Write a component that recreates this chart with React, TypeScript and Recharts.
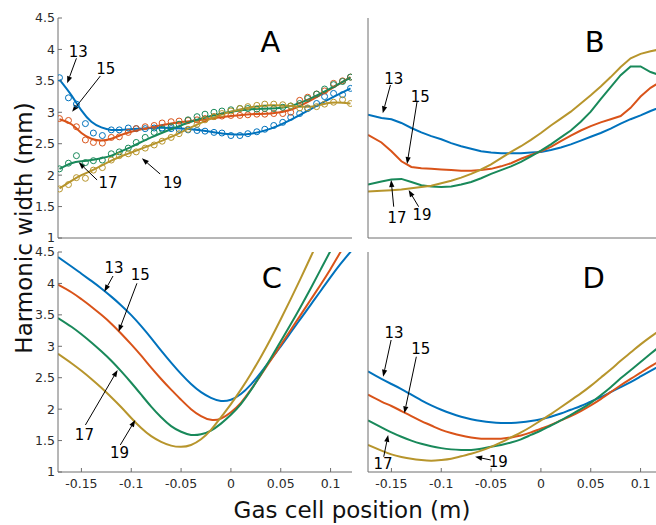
import React from 'react';
import { ComposedChart, Line, XAxis, YAxis, ReferenceLine, ReferenceDot } from 'recharts';

// ---------- Panel A : measured points (circles) ----------
const A_POS = [-0.172, -0.163, -0.155, -0.146, -0.138, -0.129, -0.12, -0.112, -0.103, -0.095, -0.086, -0.077, -0.069, -0.06, -0.052, -0.043, -0.034, -0.026, -0.017, -0.009, 0.0, 0.009, 0.017, 0.026, 0.034, 0.043, 0.052, 0.06, 0.069, 0.077, 0.086, 0.094, 0.103, 0.112, 0.12];
const A_H13 = [3.55, 3.23, 3.13, 2.82, 2.67, 2.63, 2.72, 2.72, 2.75, 2.74, 2.74, 2.75, 2.75, 2.74, 2.73, 2.72, 2.71, 2.7, 2.68, 2.67, 2.63, 2.63, 2.66, 2.69, 2.73, 2.79, 2.84, 2.92, 2.98, 3.06, 3.14, 3.25, 3.3, 3.28, 3.38];
const A_H15 = [2.9, 2.87, 2.77, 2.56, 2.52, 2.51, 2.6, 2.61, 2.68, 2.74, 2.77, 2.79, 2.83, 2.85, 2.86, 2.87, 2.88, 2.9, 2.93, 2.94, 2.95, 2.95, 2.96, 2.97, 2.97, 2.98, 2.98, 3.0, 3.19, 3.24, 3.29, 3.34, 3.46, 3.5, 3.56];
const A_H17 = [2.1, 2.19, 2.31, 2.2, 2.23, 2.24, 2.34, 2.37, 2.43, 2.52, 2.6, 2.68, 2.73, 2.77, 2.81, 2.88, 2.93, 2.97, 3.0, 3.02, 3.04, 3.06, 3.06, 3.05, 3.06, 3.06, 3.08, 3.1, 3.14, 3.22, 3.29, 3.37, 3.44, 3.49, 3.56];
const A_H19 = [1.78, 1.85, 1.96, 1.95, 2.08, 2.12, 2.24, 2.31, 2.34, 2.37, 2.43, 2.48, 2.54, 2.6, 2.66, 2.73, 2.81, 2.88, 2.93, 2.98, 3.02, 3.06, 3.09, 3.11, 3.13, 3.13, 3.12, 3.1, 3.07, 3.07, 3.09, 3.13, 3.16, 3.2, 3.14];

// ---------- Panel A : fitted curves ----------
const A_FIT_POS = [-0.172, -0.16, -0.15, -0.14, -0.13, -0.12, -0.11, -0.1, -0.08, -0.06, -0.04, -0.02, 0, 0.02, 0.04, 0.06, 0.08, 0.1, 0.12];
const A_FIT_H13 = [3.52, 3.27, 3.03, 2.85, 2.76, 2.72, 2.72, 2.73, 2.75, 2.75, 2.73, 2.69, 2.65, 2.66, 2.74, 2.88, 3.05, 3.22, 3.38];
const A_FIT_H15 = [2.89, 2.81, 2.67, 2.58, 2.55, 2.58, 2.64, 2.69, 2.76, 2.82, 2.86, 2.9, 2.94, 2.97, 2.98, 3.04, 3.19, 3.37, 3.56];
const A_FIT_H17 = [2.1, 2.19, 2.22, 2.24, 2.27, 2.31, 2.38, 2.45, 2.6, 2.73, 2.85, 2.94, 3.01, 3.05, 3.06, 3.1, 3.22, 3.38, 3.55];
const A_FIT_H19 = [1.79, 1.91, 2.0, 2.07, 2.15, 2.23, 2.3, 2.36, 2.48, 2.61, 2.76, 2.9, 3.01, 3.08, 3.11, 3.1, 3.09, 3.15, 3.14];

// ---------- Panels B, C, D : positions ----------
const GRID = [-0.1735, -0.16, -0.15, -0.14, -0.13, -0.12, -0.11, -0.1, -0.09, -0.08, -0.07, -0.06, -0.05, -0.04, -0.03, -0.02, -0.01, 0, 0.01, 0.02, 0.03, 0.04, 0.05, 0.06, 0.07, 0.08, 0.09, 0.1, 0.11, 0.1215];

const B_H13 = [2.96, 2.91, 2.89, 2.83, 2.75, 2.68, 2.62, 2.57, 2.51, 2.46, 2.42, 2.38, 2.36, 2.35, 2.35, 2.35, 2.36, 2.37, 2.4, 2.44, 2.49, 2.55, 2.61, 2.67, 2.74, 2.82, 2.89, 2.95, 3.02, 3.09];
const B_H15 = [2.64, 2.52, 2.38, 2.22, 2.13, 2.11, 2.1, 2.09, 2.08, 2.07, 2.07, 2.08, 2.1, 2.14, 2.19, 2.26, 2.32, 2.38, 2.45, 2.54, 2.63, 2.71, 2.78, 2.84, 2.89, 2.94, 3.07, 3.25, 3.39, 3.5];
const B_H17 = [1.85, 1.9, 1.93, 1.94, 1.89, 1.84, 1.82, 1.81, 1.82, 1.85, 1.89, 1.95, 2.02, 2.08, 2.14, 2.21, 2.3, 2.39, 2.49, 2.6, 2.71, 2.85, 3.01, 3.21, 3.4, 3.59, 3.73, 3.73, 3.64, 3.58];
const B_H19 = [1.74, 1.75, 1.76, 1.77, 1.79, 1.81, 1.83, 1.87, 1.91, 1.96, 2.02, 2.09, 2.17, 2.27, 2.37, 2.46, 2.56, 2.67, 2.79, 2.9, 3.01, 3.14, 3.27, 3.41, 3.56, 3.72, 3.86, 3.93, 3.97, 4.01];

const C_H13 = [4.42, 4.27, 4.155, 4.04, 3.92, 3.79, 3.65, 3.495, 3.32, 3.13, 2.93, 2.74, 2.56, 2.4, 2.27, 2.18, 2.13, 2.15, 2.24, 2.39, 2.58, 2.79, 3.0, 3.22, 3.44, 3.66, 3.88, 4.1, 4.31, 4.53];
const C_H15 = [3.98, 3.86, 3.75, 3.63, 3.5, 3.36, 3.2, 3.03, 2.85, 2.66, 2.48, 2.31, 2.15, 2.0, 1.89, 1.83, 1.85, 1.95, 2.1, 2.31, 2.54, 2.78, 3.02, 3.26, 3.5, 3.74, 3.98, 4.23, 4.5, 4.8];
const C_H17 = [3.45, 3.31, 3.19, 3.06, 2.92, 2.77, 2.6, 2.42, 2.23, 2.04, 1.87, 1.73, 1.64, 1.59, 1.6, 1.66, 1.77, 1.91, 2.08, 2.3, 2.55, 2.81, 3.08, 3.35, 3.63, 3.92, 4.22, 4.52, 4.82, 5.15];
const C_H19 = [2.88, 2.73, 2.61, 2.48, 2.34, 2.19, 2.03, 1.86, 1.7, 1.57, 1.48, 1.42, 1.4, 1.43, 1.52, 1.67, 1.87, 2.08, 2.31, 2.56, 2.83, 3.12, 3.43, 3.75, 4.08, 4.42, 4.76, 5.1, 5.44, 5.84];

const D_H13 = [2.6, 2.48, 2.4, 2.32, 2.23, 2.14, 2.06, 1.99, 1.93, 1.88, 1.84, 1.81, 1.79, 1.78, 1.78, 1.79, 1.81, 1.84, 1.88, 1.93, 1.99, 2.05, 2.12, 2.19, 2.27, 2.35, 2.43, 2.52, 2.61, 2.71];
const D_H15 = [2.23, 2.12, 2.05, 1.97, 1.89, 1.81, 1.74, 1.67, 1.62, 1.58, 1.55, 1.53, 1.53, 1.53, 1.55, 1.58, 1.63, 1.69, 1.75, 1.82, 1.89, 1.97, 2.06, 2.16, 2.27, 2.38, 2.48, 2.58, 2.68, 2.79];
const D_H17 = [1.82, 1.71, 1.63, 1.56, 1.5, 1.45, 1.41, 1.38, 1.36, 1.35, 1.35, 1.37, 1.4, 1.43, 1.47, 1.52, 1.59, 1.66, 1.74, 1.82, 1.91, 2.0, 2.1, 2.22, 2.35, 2.49, 2.62, 2.75, 2.88, 3.03];
const D_H19 = [1.43, 1.34, 1.28, 1.24, 1.21, 1.19, 1.18, 1.19, 1.21, 1.25, 1.29, 1.34, 1.4, 1.47, 1.55, 1.63, 1.72, 1.82, 1.92, 2.03, 2.14, 2.25, 2.37, 2.5, 2.63, 2.77, 2.9, 3.03, 3.15, 3.28];

// ---------- Axes ----------
const X_DOMAIN = [-0.1735, 0.1215];
const Y_DOMAIN = [1, 4.5];
const X_TICKS = [-0.15, -0.1, -0.05, 0, 0.05, 0.1];
const Y_TICKS = [1, 1.5, 2, 2.5, 3, 3.5, 4, 4.5];

// ---------- Annotations (data coordinates) ----------
type Note = { label: string; tx: number; ty: number; x1: number; y1: number; x2: number; y2: number };
const A_NOTES: Note[] = [
  { label: '13', tx: -0.1532, ty: 3.964, x1: -0.155, y1: 3.859, x2: -0.1643, y2: 3.461 },
  { label: '15', tx: -0.1255, ty: 3.689, x1: -0.131, y1: 3.577, x2: -0.1593, y2: 3.009 },
  { label: '17', tx: -0.1232, ty: 1.87, x1: -0.1343, y1: 1.923, x2: -0.1527, y2: 2.204 },
  { label: '19', tx: -0.0585, ty: 1.87, x1: -0.071, y1: 2.018, x2: -0.0893, y2: 2.268 },
];
const B_NOTES: Note[] = [
  { label: '13', tx: -0.1477, ty: 3.525, x1: -0.151, y1: 3.434, x2: -0.1587, y2: 2.984 },
  { label: '15', tx: -0.121, ty: 3.248, x1: -0.1243, y1: 3.168, x2: -0.1343, y2: 2.177 },
  { label: '17', tx: -0.1443, ty: 1.318, x1: -0.1477, y1: 1.498, x2: -0.1503, y2: 1.923 },
  { label: '19', tx: -0.1193, ty: 1.366, x1: -0.1227, y1: 1.498, x2: -0.1327, y2: 1.764 },
];
const C_NOTES: Note[] = [
  { label: '13', tx: -0.1173, ty: 4.24, x1: -0.1183, y1: 4.118, x2: -0.127, y2: 3.868 },
  { label: '15', tx: -0.091, ty: 4.134, x1: -0.0943, y1: 4.002, x2: -0.1127, y2: 3.232 },
  { label: '17', tx: -0.147, ty: 1.589, x1: -0.146, y1: 1.748, x2: -0.1137, y2: 2.623 },
  { label: '19', tx: -0.1117, ty: 1.297, x1: -0.111, y1: 1.43, x2: -0.096, y2: 1.827 },
];
const D_NOTES: Note[] = [
  { label: '13', tx: -0.1473, ty: 3.216, x1: -0.1503, y1: 3.1, x2: -0.1583, y2: 2.516 },
  { label: '15', tx: -0.1205, ty: 2.952, x1: -0.125, y1: 2.834, x2: -0.137, y2: 1.934 },
  { label: '17', tx: -0.1585, ty: 1.127, x1: -0.1577, y1: 1.243, x2: -0.1533, y2: 1.589 },
  { label: '19', tx: -0.0427, ty: 1.164, x1: -0.0503, y1: 1.191, x2: -0.066, y2: 1.243 },
];
const LETTERS = [
  { label: 'A', x: 0.0397, y: 4.118 },
  { label: 'B', x: 0.054, y: 4.118 },
  { label: 'C', x: 0.041, y: 4.086 },
  { label: 'D', x: 0.053, y: 4.086 },
];

// ---------- Styles ----------
const COLORS = ['#0072bd', '#d95319', '#19895a', '#b7952c'];
const FONT = "'DejaVu Sans', Verdana, sans-serif";
const AXIS_COLOR = '#6e6e6e';
const TICK_STYLE = { fill: '#2a2a2a', fontSize: 12.5, fontFamily: FONT };

const pts = (xs: number[], ys: number[]) => xs.map((x, i) => ({ x, y: ys[i] }));

const Arrow = (p: any) => {
  const { x1, y1, x2, y2 } = p;
  const dx = x2 - x1;
  const dy = y2 - y1;
  const len = Math.hypot(dx, dy) || 1;
  const ux = dx / len;
  const uy = dy / len;
  const hl = 7;
  const hw = 2.6;
  const bx = x2 - ux * hl;
  const by = y2 - uy * hl;
  return (
    <g>
      <line x1={x1} y1={y1} x2={bx} y2={by} stroke="#000" strokeWidth={1} />
      <polygon
        points={`${x2},${y2} ${bx - uy * hw},${by + ux * hw} ${bx + uy * hw},${by - ux * hw}`}
        fill="#000"
      />
    </g>
  );
};

type Series = { x: number[]; y: number[] };

type PanelProps = {
  left: number;
  top: number;
  chartHeight: number;
  xAxisHeight: number;
  showXLabels: boolean;
  showYLabels: boolean;
  curves: Series[];
  curveType: 'natural' | 'linear';
  markers?: Series[];
  notes: Note[];
  letter: { label: string; x: number; y: number };
};

function Panel(props: PanelProps) {
  const { left, top, chartHeight, xAxisHeight, showXLabels, showYLabels, curves, curveType, markers, notes, letter } = props;
  return (
    <div style={{ position: 'absolute', left, top }}>
      <ComposedChart width={360} height={chartHeight} margin={{ top: 18, right: 8, bottom: 0, left: 0 }}>
        <XAxis
          xAxisId="x"
          type="number"
          dataKey="x"
          domain={X_DOMAIN}
          ticks={X_TICKS}
          interval={0}
          allowDataOverflow
          height={xAxisHeight}
          tickSize={-4}
          tickMargin={11}
          stroke={AXIS_COLOR}
          tick={showXLabels ? TICK_STYLE : false}
          tickFormatter={(v: number) => String(v)}
        />
        <XAxis
          xAxisId="xt"
          orientation="top"
          type="number"
          dataKey="x"
          domain={X_DOMAIN}
          ticks={X_TICKS}
          interval={0}
          allowDataOverflow
          height={0}
          tickSize={-4}
          stroke={AXIS_COLOR}
          tick={false}
        />
        <YAxis
          yAxisId="y"
          type="number"
          domain={Y_DOMAIN}
          ticks={Y_TICKS}
          interval={0}
          allowDataOverflow
          width={58}
          tickSize={-4}
          tickMargin={7}
          stroke={AXIS_COLOR}
          tick={showYLabels ? TICK_STYLE : false}
          tickFormatter={(v: number) => String(v)}
        />
        <YAxis
          yAxisId="yr"
          orientation="right"
          type="number"
          domain={Y_DOMAIN}
          ticks={Y_TICKS}
          interval={0}
          allowDataOverflow
          width={0}
          tickSize={-4}
          stroke={AXIS_COLOR}
          tick={false}
        />
        {curves.map((s, i) => (
          <Line
            key={'c' + i}
            xAxisId="x"
            yAxisId="y"
            data={pts(s.x, s.y)}
            dataKey="y"
            type={curveType}
            stroke={COLORS[i]}
            strokeWidth={2}
            dot={false}
            activeDot={false}
            isAnimationActive={false}
          />
        ))}
        {(markers || []).map((s, i) => (
          <Line
            key={'m' + i}
            xAxisId="x"
            yAxisId="y"
            data={pts(s.x, s.y)}
            dataKey="y"
            stroke="none"
            dot={{ r: 3, stroke: COLORS[i], strokeWidth: 1, fill: 'none' }}
            activeDot={false}
            isAnimationActive={false}
          />
        ))}
        {notes.map((n) => (
          <ReferenceLine
            key={'a' + n.label}
            xAxisId="x"
            yAxisId="y"
            segment={[{ x: n.x1, y: n.y1 }, { x: n.x2, y: n.y2 }]}
            ifOverflow="visible"
            shape={Arrow}
          />
        ))}
        {notes.map((n) => (
          <ReferenceDot
            key={'t' + n.label}
            xAxisId="x"
            yAxisId="y"
            x={n.tx}
            y={n.ty}
            ifOverflow="visible"
            shape={(p: any) => (
              <text x={p.cx} y={p.cy} textAnchor="middle" dominantBaseline="central" fontSize={15} fontFamily={FONT} fill="#000">
                {n.label}
              </text>
            )}
          />
        ))}
        <ReferenceDot
          xAxisId="x"
          yAxisId="y"
          x={letter.x}
          y={letter.y}
          ifOverflow="visible"
          shape={(p: any) => (
            <text x={p.cx} y={p.cy} textAnchor="middle" dominantBaseline="central" fontSize={29} fontFamily={FONT} fill="#000">
              {letter.label}
            </text>
          )}
        />
      </ComposedChart>
    </div>
  );
}

export default function App() {
  return (
    <div
      style={{
        position: 'fixed',
        left: 0,
        top: 0,
        width: 656,
        height: 525,
        overflow: 'hidden',
        background: '#fff',
      }}
    >
      <Panel
        left={0}
        top={0}
        chartHeight={250}
        xAxisHeight={12}
        showXLabels={false}
        showYLabels={true}
        curveType="natural"
        curves={[
          { x: A_FIT_POS, y: A_FIT_H13 },
          { x: A_FIT_POS, y: A_FIT_H15 },
          { x: A_FIT_POS, y: A_FIT_H17 },
          { x: A_FIT_POS, y: A_FIT_H19 },
        ]}
        markers={[
          { x: A_POS, y: A_H13 },
          { x: A_POS, y: A_H15 },
          { x: A_POS, y: A_H17 },
          { x: A_POS, y: A_H19 },
        ]}
        notes={A_NOTES}
        letter={LETTERS[0]}
      />
      <Panel
        left={310}
        top={0}
        chartHeight={250}
        xAxisHeight={12}
        showXLabels={false}
        showYLabels={false}
        curveType="linear"
        curves={[
          { x: GRID, y: B_H13 },
          { x: GRID, y: B_H15 },
          { x: GRID, y: B_H17 },
          { x: GRID, y: B_H19 },
        ]}
        notes={B_NOTES}
        letter={LETTERS[1]}
      />
      <Panel
        left={0}
        top={234}
        chartHeight={268}
        xAxisHeight={30}
        showXLabels={true}
        showYLabels={true}
        curveType="natural"
        curves={[
          { x: GRID, y: C_H13 },
          { x: GRID, y: C_H15 },
          { x: GRID, y: C_H17 },
          { x: GRID, y: C_H19 },
        ]}
        notes={C_NOTES}
        letter={LETTERS[2]}
      />
      <Panel
        left={310}
        top={234}
        chartHeight={268}
        xAxisHeight={30}
        showXLabels={true}
        showYLabels={false}
        curveType="natural"
        curves={[
          { x: GRID, y: D_H13 },
          { x: GRID, y: D_H15 },
          { x: GRID, y: D_H17 },
          { x: GRID, y: D_H19 },
        ]}
        notes={D_NOTES}
        letter={LETTERS[3]}
      />
      <svg width={656} height={525} style={{ position: 'absolute', left: 0, top: 0, pointerEvents: 'none' }}>
        <text
          x={32}
          y={228}
          transform="rotate(-90 32 228)"
          textAnchor="middle"
          fontSize={23}
          fontFamily={FONT}
          fill="#111"
        >
          Harmonic width (mm)
        </text>
        <text x={352} y={518} textAnchor="middle" fontSize={23} fontFamily={FONT} fill="#111">
          Gas cell position (m)
        </text>
      </svg>
    </div>
  );
}
